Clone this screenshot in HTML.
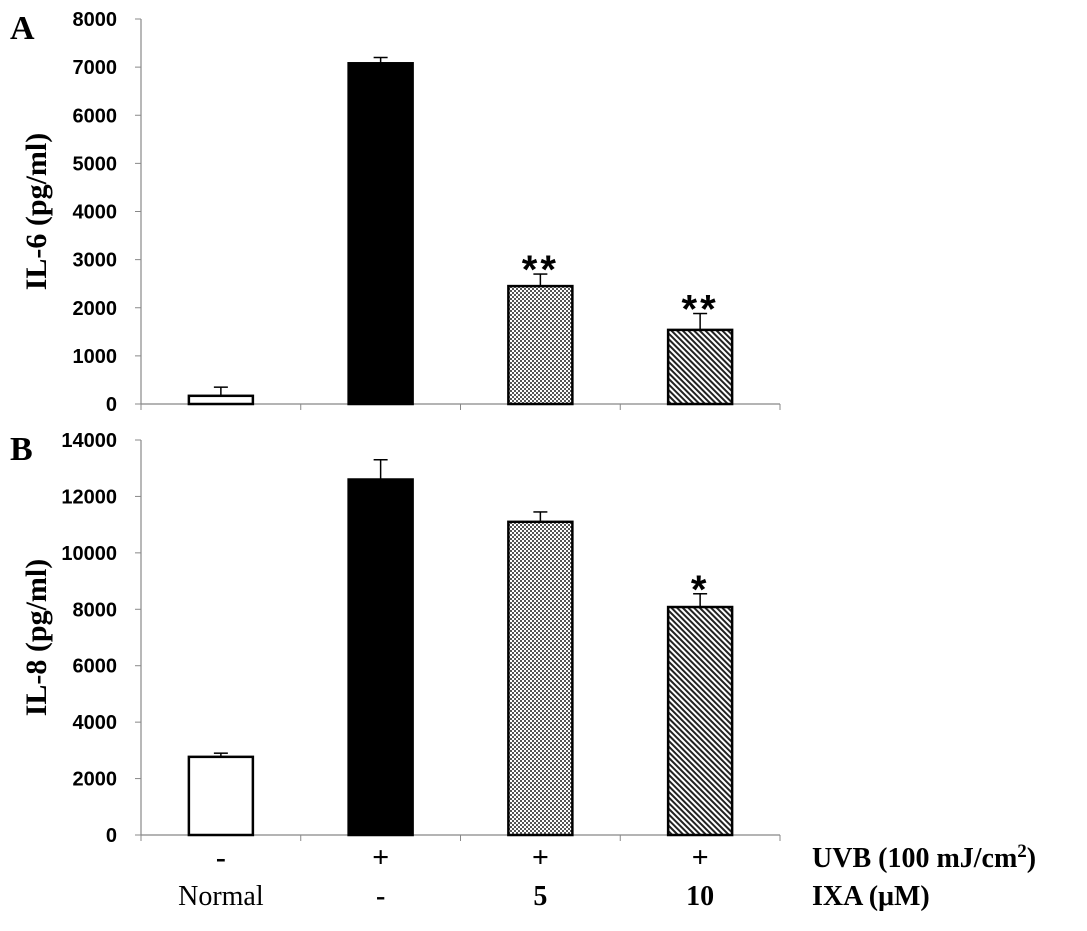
<!DOCTYPE html>
<html><head><meta charset="utf-8"><style>
body{margin:0;background:#fff;}
svg text{font-family:"Liberation Serif",serif;}
</style></head><body>
<svg id="chart" width="1087" height="926" xmlns="http://www.w3.org/2000/svg">
<defs>
<pattern id="dots" width="4" height="4" patternUnits="userSpaceOnUse"><rect width="4" height="4" fill="#fff"/><rect width="2" height="2" fill="#555"/><rect x="2" y="2" width="2" height="2" fill="#555"/></pattern>
<pattern id="diag" width="4" height="4" patternUnits="userSpaceOnUse" patternTransform="rotate(-45)"><rect width="4" height="4" fill="#fff"/><rect width="2" height="4" fill="#222"/></pattern>
</defs>
<g id="g"></g>
</svg>
<script>
const categories=["Normal","UVB","IXA 5","IXA 10"];
const uvbLabels=["-","+","+","+"];
const ixaLabels=["Normal","-","5","10"];
const il6Values=[170,7080,2450,1540];
const il6Errors=[180,120,250,340];
const il6Sig=["","","**","**"];
const il6Ticks=[0,1000,2000,3000,4000,5000,6000,7000,8000];
const il8Values=[2770,12600,11100,8080];
const il8Errors=[130,700,350,470];
const il8Sig=["","","","*"];
const il8Ticks=[0,2000,4000,6000,8000,10000,12000,14000];
const fills=["#fff","#000","url(#dots)","url(#diag)"];
const NS="http://www.w3.org/2000/svg";
const g=document.getElementById('g');
function mk(t,a,txt){const e=document.createElementNS(NS,t);for(const k in a)e.setAttribute(k,a[k]);if(txt!==undefined)e.textContent=txt;g.appendChild(e);return e;}
const x0=141,cw=159.75,bw=64;
function xc(i){return x0+cw*(i+0.5);}
function panel(vals,errs,sig,ticks,yTop,yBot,max,title,letter,key){
  const y=v=>yBot-(v/max)*(yBot-yTop);
  let e=mk('line',{x1:x0,y1:yTop,x2:x0,y2:yBot,stroke:'#888','stroke-width':1.2});
  
  
  e=mk('line',{x1:x0,y1:yBot,x2:x0+cw*4,y2:yBot,stroke:'#888','stroke-width':1.2});
  
  
  for(let i=0;i<=4;i++){mk('line',{x1:x0+cw*i,y1:yBot,x2:x0+cw*i,y2:yBot+6,stroke:'#888'});}
  ticks.forEach(t=>{
    mk('line',{x1:x0-6,y1:y(t),x2:x0,y2:y(t),stroke:'#888'});
    e=mk('text',{x:x0-24,y:y(t)+7,'text-anchor':'end','font-size':20,'font-weight':'bold',style:'font-family:Liberation Sans,sans-serif'},String(t));
    
    
  });
  vals.forEach((v,i)=>{
    const cx=xc(i);
    mk('line',{x1:cx,y1:y(v),x2:cx,y2:y(v+errs[i]),stroke:'#000','stroke-width':1.5});
    mk('line',{x1:cx-7,y1:y(v+errs[i]),x2:cx+7,y2:y(v+errs[i]),stroke:'#000','stroke-width':1.5});
    e=mk('rect',{x:cx-bw/2,y:y(v),width:bw,height:yBot-y(v),fill:fills[i],stroke:'#000','stroke-width':2.5});
    
    
    if(sig[i]){e=mk('text',{x:cx,y:y(v+errs[i])+9,'text-anchor':'middle','font-size':40,'font-weight':'bold',style:'font-family:Liberation Sans,sans-serif;letter-spacing:3px'},sig[i]);
      
      }
  });
  const my=(yTop+yBot)/2;
  e=mk('text',{x:0,y:0,'text-anchor':'middle','font-size':30,'font-weight':'bold',transform:`translate(46,${my}) rotate(-90)`},title);
  
  
  e=mk('text',{x:10,y:yTop+20,'font-size':34,'font-weight':'bold'},letter);
  
  
}
panel(il6Values,il6Errors,il6Sig,il6Ticks,19,404,8000,'IL-6  (pg/ml)','A','il6');
panel(il8Values,il8Errors,il8Sig,il8Ticks,440,835,14000,'IL-8  (pg/ml)','B','il8');
uvbLabels.forEach((t,i)=>{let e=mk('text',{x:xc(i),y:867,'text-anchor':'middle','font-size':30,'font-weight':'bold'},t);
  
  });
ixaLabels.forEach((t,i)=>{let e=mk('text',{x:xc(i),y:905,'text-anchor':'middle','font-size':28,'font-weight':i?'bold':'normal'},t);
  
  });
let e=mk('text',{x:812,y:867,'font-size':28,'font-weight':'bold'});
e.innerHTML='UVB (100 mJ/cm<tspan dy="-10" font-size="19">2</tspan><tspan dy="10">)</tspan>';


e=mk('text',{x:812,y:905,'font-size':28,'font-weight':'bold'},'IXA  (μM)');


</script>
</body></html>
